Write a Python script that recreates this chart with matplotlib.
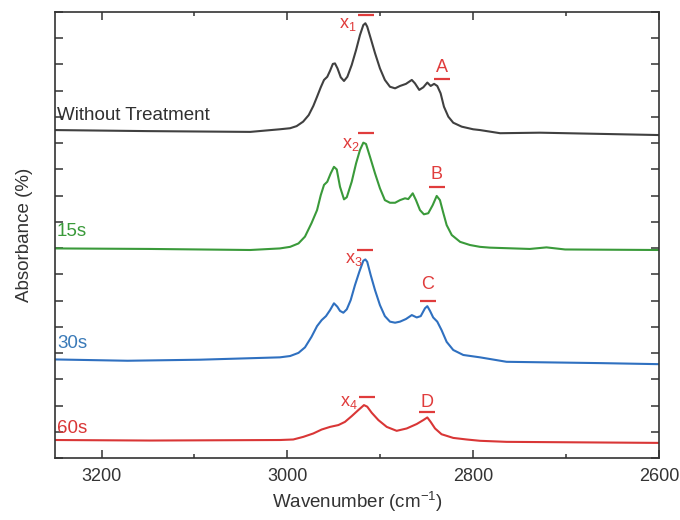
import matplotlib
matplotlib.use("Agg")
import matplotlib.pyplot as plt
from matplotlib.ticker import MultipleLocator, NullFormatter

plt.rcParams['font.family'] = ['Liberation Sans', 'DejaVu Sans']
plt.rcParams['mathtext.fontset'] = 'custom'
plt.rcParams['mathtext.rm'] = 'Liberation Sans'
plt.rcParams['mathtext.it'] = 'Liberation Sans'

# spectra, stacked with offsets (wavenumber in cm-1, absorbance in arbitrary units)
wn_ctrl = [3250, 3150, 3040, 3008, 2997, 2990, 2983, 2977, 2972, 2968, 2964, 2960.5,
           2957, 2954, 2951, 2948.7, 2946, 2942.5, 2939, 2935.4, 2930.7, 2926, 2921.8,
           2918.2, 2916, 2914, 2910.3, 2905.6, 2900.3, 2895, 2889.5, 2884, 2878.7,
           2872.3, 2866, 2862.6, 2858, 2853.6, 2849.3, 2845.7, 2842, 2838.6, 2835,
           2831.4, 2826.7, 2821.4, 2812.3, 2800, 2792.6, 2771, 2728, 2600]
abs_ctrl = [12.50, 12.46, 12.43, 12.53, 12.57, 12.65, 12.82, 13.07, 13.42, 13.77,
            14.13, 14.41, 14.53, 14.76, 15.02, 15.04, 14.85, 14.51, 14.37, 14.53,
            14.98, 15.55, 16.12, 16.50, 16.57, 16.44, 16.00, 15.43, 14.85, 14.41,
            14.15, 14.09, 14.18, 14.26, 14.41, 14.28, 14.03, 14.13, 14.31, 14.18,
            14.26, 14.18, 13.90, 13.39, 13.01, 12.78, 12.63, 12.53, 12.50, 12.38,
            12.40, 12.31]

wn_15s = [3250, 3148, 3040, 3008, 2997, 2988, 2981, 2974, 2968, 2964, 2960.5, 2957,
          2953.3, 2949.8, 2946.8, 2943.3, 2939, 2936, 2930.7, 2926, 2921.8, 2918.2,
          2915.3, 2911, 2905.6, 2900.3, 2895, 2889.5, 2884, 2878.7, 2873.3, 2869.8,
          2865, 2861.5, 2857.2, 2853, 2848.3, 2843.5, 2839.2, 2835.7, 2832, 2828.5,
          2823, 2814, 2803.4, 2792.6, 2782, 2739, 2721, 2701, 2600]
abs_15s = [7.99, 7.97, 7.93, 7.99, 8.05, 8.18, 8.44, 8.95, 9.45, 10.02, 10.41, 10.53,
           10.85, 11.10, 11.00, 10.34, 9.86, 9.94, 10.53, 11.23, 11.74, 12.02, 11.97,
           11.48, 10.85, 10.28, 9.83, 9.73, 9.73, 9.83, 9.90, 9.87, 10.09, 9.83, 9.45,
           9.29, 9.33, 9.64, 9.99, 9.83, 9.33, 8.88, 8.50, 8.24, 8.12, 8.05, 8.02,
           7.97, 8.03, 7.95, 7.93]

wn_30s = [3250, 3172, 3094, 3008, 2997, 2988, 2981, 2974, 2968, 2963, 2958.4, 2954,
          2949.8, 2946.2, 2943.3, 2939.7, 2936, 2931.8, 2927.2, 2922.5, 2918.2, 2916,
          2914, 2910.3, 2905.6, 2900.3, 2895, 2889.5, 2884, 2878.7, 2872.3, 2866,
          2860.7, 2856.4, 2851.8, 2849.3, 2846.4, 2843, 2838.6, 2834, 2828.5, 2821.4,
          2810.6, 2792.6, 2764, 2663, 2600]
abs_30s = [3.76, 3.71, 3.75, 3.84, 3.89, 4.01, 4.22, 4.62, 5.03, 5.26, 5.41, 5.64,
           5.90, 5.77, 5.61, 5.54, 5.67, 6.02, 6.59, 7.10, 7.52, 7.57, 7.48, 6.98,
           6.40, 5.83, 5.41, 5.20, 5.16, 5.20, 5.30, 5.45, 5.36, 5.41, 5.71, 5.79,
           5.61, 5.36, 5.20, 4.88, 4.43, 4.12, 3.93, 3.84, 3.67, 3.62, 3.58]

wn_60s = [3250, 3148, 3008, 2993.6, 2982.8, 2972, 2963, 2954, 2945, 2938, 2930.7,
          2923.6, 2917.5, 2914, 2909.2, 2902, 2893, 2882.3, 2871.5, 2860.7, 2853.6,
          2849.3, 2845.7, 2841, 2834, 2821.4, 2807, 2792.6, 2764, 2600]
abs_60s = [0.69, 0.67, 0.69, 0.71, 0.81, 0.94, 1.09, 1.19, 1.26, 1.38, 1.60, 1.83,
           2.02, 1.96, 1.73, 1.45, 1.19, 1.04, 1.13, 1.30, 1.45, 1.55, 1.38, 1.13,
           0.91, 0.77, 0.71, 0.66, 0.62, 0.58]

series = [
    (wn_ctrl, abs_ctrl, '#404040', 'Without Treatment', '#303030', 13.04),
    (wn_15s, abs_15s, '#3a9a3a', '15s', '#3a9a3a', 8.63),
    (wn_30s, abs_30s, '#2f70c0', '30s', '#3a7ab8', 4.37),
    (wn_60s, abs_60s, '#d93636', '60s', '#d93636', 1.13),
]

# peak labels (x1..x4 near the main band, A..D at the shoulder band)
x_labels = ['x$_1$', 'x$_2$', 'x$_3$', 'x$_4$']
x_label_wn = [2944, 2941, 2938, 2943]
x_label_y = [16.52, 11.96, 7.58, 2.13]
x_bar_wn = [2915, 2915, 2916, 2914]
x_bar_y = [16.89, 12.38, 7.93, 2.34]
band_labels = ['A', 'B', 'C', 'D']
band_wn = [2833, 2839, 2849, 2850]
band_y = [14.90, 10.82, 6.62, 2.12]
band_bar_y = [14.45, 10.33, 5.98, 1.74]

label_red = '#e03c3c'

fig = plt.figure(figsize=(6.8, 5.2), dpi=100)
ax = fig.add_axes([0.081, 0.119, 0.888, 0.858])

for wn, ab, col, name, tcol, ty in series:
    ax.plot(wn, ab, color=col, lw=1.5, solid_joinstyle='round')
    ax.text(3248, ty, name, color=tcol, fontsize=13.5, ha='left', va='center')

for t, xw, yy in zip(x_labels, x_label_wn, x_label_y):
    ax.text(xw, yy, t, color=label_red, fontsize=13, ha='left', va='center')
ax.plot(x_bar_wn, x_bar_y, ls='none', marker='_', ms=12, mew=1.6, color=label_red)

for t, xw, yy in zip(band_labels, band_wn, band_y):
    ax.text(xw, yy, t, color=label_red, fontsize=13, ha='center', va='center')
ax.plot(band_wn, band_bar_y, ls='none', marker='_', ms=12, mew=1.6, color=label_red)

ax.set_xlim(3250, 2600)
ax.set_ylim(0, 17)
ax.xaxis.set_major_locator(MultipleLocator(200))
ax.xaxis.set_minor_locator(MultipleLocator(100))
ax.yaxis.set_major_locator(MultipleLocator(1))
ax.yaxis.set_major_formatter(NullFormatter())
ax.tick_params(which='both', direction='in', top=True, right=True, colors='#333333',
               labelsize=13, width=1.1, labelcolor='#333333')
ax.tick_params(which='major', length=6, pad=7)
ax.tick_params(which='minor', length=3)
for s in ax.spines.values():
    s.set_color('#333333')
    s.set_linewidth(1.2)

ax.set_xlabel('Wavenumber (cm$^{-1}$)', fontsize=13.5, color='#333333', labelpad=4)
ax.set_ylabel('Absorbance (%)', fontsize=13.5, color='#333333', labelpad=9)

fig.savefig('out.png', dpi=100)
